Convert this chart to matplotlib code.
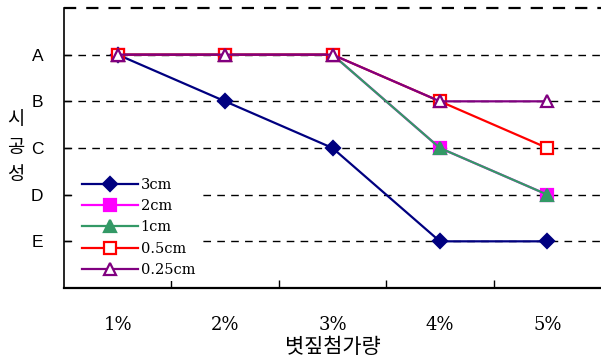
import matplotlib.pyplot as plt

plt.rcParams['font.family'] = ['Noto Sans CJK KR', 'DejaVu Sans']

categories = ['1%', '2%', '3%', '4%', '5%']
grades = ['A', 'B', 'C', 'D', 'E']

# grade index: A=1 ... E=5
s_3cm = [1, 2, 3, 5, 5]
s_2cm = [1, 1, 1, 3, 4]
s_1cm = [1, 1, 1, 3, 4]
s_05cm = [1, 1, 1, 2, 3]
s_025cm = [1, 1, 1, 2, 2]

series = [
    ('3cm', s_3cm, '#000080', 'D', '#000080'),
    ('2cm', s_2cm, '#FF00FF', 's', '#FF00FF'),
    ('1cm', s_1cm, '#339966', '^', '#339966'),
    ('0.5cm', s_05cm, '#FF0000', 's', 'white'),
    ('0.25cm', s_025cm, '#800080', '^', 'white'),
]

fig = plt.figure(figsize=(6.01, 3.61), dpi=100)
ax = fig.add_axes([64 / 601, 1 - 288 / 361, 537 / 601, 280 / 361])

x = list(range(len(categories)))

# dashed grid lines (top one acts as the upper border)
for lvl in range(0, 6):
    ax.plot([-0.5, 4.5], [lvl, lvl], color='black',
            lw=1.6 if lvl == 0 else 1.0,
            linestyle=(0, (5.5, 4.5)), zorder=1, clip_on=False)

for name, vals, col, mk, fc in series:
    ms = 8 if mk != 'D' else 7
    ax.plot(x, vals, color=col, lw=1.6, marker=mk, markersize=ms,
            markerfacecolor=fc, markeredgecolor=col, markeredgewidth=1.6,
            label=name, zorder=3)

ax.set_xlim(-0.5, 4.5)
ax.set_ylim(6, 0)

ax.spines['top'].set_visible(False)
ax.spines['right'].set_visible(False)
ax.spines['left'].set_linewidth(1.2)
ax.spines['bottom'].set_linewidth(1.6)

ax.set_yticks(range(1, 6))
ax.set_yticklabels(grades, family=['Liberation Sans', 'DejaVu Sans'], fontsize=12.5)
ax.tick_params(axis='y', direction='in', length=5, width=1, pad=15)

ax.set_xticks(x)
ax.set_xticklabels(categories, family=['DejaVu Serif'], fontsize=13)
ax.set_xticks([0.5, 1.5, 2.5, 3.5], minor=True)
ax.tick_params(axis='x', which='major', length=0, pad=20)
ax.tick_params(axis='x', which='minor', direction='in', length=6, width=1)

fig.text(16 / 601, 1 - 147 / 361, '시\n공\n성', ha='center', va='center',
         fontsize=13.5, linespacing=1.4)
fig.text(333 / 601, 1 - 347 / 361, '볏짚첨가량', ha='center', va='center',
         fontsize=15)

leg = ax.legend(loc='upper left', bbox_to_anchor=(0.018, 0.425),
                prop={'family': ['DejaVu Serif'], 'size': 10.5},
                handlelength=3.8, labelspacing=0.5, handletextpad=0.2,
                borderpad=0.3, borderaxespad=0.3, fancybox=False,
                framealpha=1, facecolor='white', edgecolor='none')
leg.set_zorder(5)

fig.savefig('out.png', dpi=100)
